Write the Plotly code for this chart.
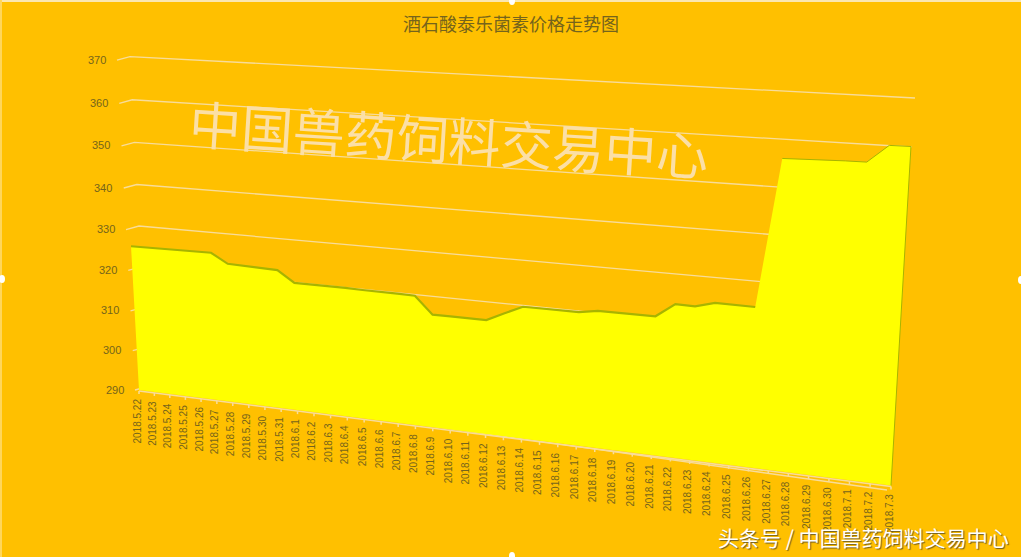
import plotly.graph_objects as go

title = "酒石酸泰乐菌素价格走势图"
watermark = "中国兽药饲料交易中心"
credit = "头条号 / 中国兽药饲料交易中心"

dates = ["2018.5.22","2018.5.23","2018.5.24","2018.5.25","2018.5.26","2018.5.27","2018.5.28","2018.5.29",
         "2018.5.30","2018.5.31","2018.6.1","2018.6.2","2018.6.3","2018.6.4","2018.6.5","2018.6.6","2018.6.7",
         "2018.6.8","2018.6.9","2018.6.10","2018.6.11","2018.6.12","2018.6.13","2018.6.14","2018.6.15",
         "2018.6.16","2018.6.17","2018.6.18","2018.6.19","2018.6.20","2018.6.21","2018.6.22","2018.6.23",
         "2018.6.24","2018.6.25","2018.6.26","2018.6.27","2018.6.28","2018.6.29","2018.6.30","2018.7.1",
         "2018.7.2","2018.7.3"]
prices = [325.5,325.4,325.3,325.2,325.0,324.9,322.5,322.2,322.0,321.7,319.0,318.9,318.7,318.6,318.4,318.3,318.1,
          317.9,314.1,314.0,313.9,313.8,315.5,317.1,317.0,316.9,316.8,317.3,317.2,317.1,317.0,319.6,319.4,
          320.3,320.1,320.0,347.8,347.7,347.5,347.4,347.2,350.2,350.0]
y_ticks = [290,300,310,320,330,340,350,360,370]

BG = "#FFC000"
GRID = "#F8DC9A"
TEXT = "#75641C"
AREA = "#FFFF00"
EDGE = "#A8B400"
N = len(dates) - 1
V0 = 290


def depth(i):
    """Perspective position of category i along the floor (0..1)."""
    u = i / N
    return u / (1.17 - 0.17 * u)


def front(i, v):
    """Screen position of (category, value) on the plane of the area."""
    s = depth(i)
    d = v - V0
    return (139 + 752 * s + d * (-0.225 + 0.558 * s),
            390 + 95.5 * s - d * (4.05 + 1.6 * s))


def wall_left(v):
    d = v - V0
    return 148 - 0.225 * d, 386.5 - 3.9 * d - 0.0028 * d * d


def wall_right(v):
    return 915 - (370 - v) * 0.35, 98 + 4.9 * (370 - v)


fig = go.Figure()

# gridlines: short side-wall stub, then along the back wall
gx, gy = [], []
for v in y_ticks:
    xl, yl = wall_left(v)
    xr, yr = wall_right(v)
    gx += [xl - 13, xl, xr, None]
    gy += [yl + 3.5, yl, yr, None]
fig.add_trace(go.Scatter(x=gx, y=gy, mode="lines", line=dict(color=GRID, width=1.3), hoverinfo="skip"))

# area
tops = [front(i, v) for i, v in enumerate(prices)]
b0 = front(0, V0)
b1 = front(N, V0)
fig.add_trace(go.Scatter(
    x=[b0[0]] + [p[0] for p in tops] + [b1[0]],
    y=[b0[1]] + [p[1] for p in tops] + [b1[1]],
    mode="lines", fill="toself", fillcolor=AREA, line=dict(width=0), hoverinfo="skip",
    customdata=prices,
))

# top bevel of the area
fig.add_trace(go.Scatter(x=[p[0] for p in tops[:36]], y=[p[1] for p in tops[:36]], mode="lines",
                         line=dict(color=EDGE, width=2.2), hoverinfo="skip"))
fig.add_trace(go.Scatter(x=[p[0] for p in tops[36:]] + [b1[0]], y=[p[1] for p in tops[36:]] + [b1[1]], mode="lines",
                         line=dict(color=EDGE, width=1), hoverinfo="skip"))

# floor axis + ticks
ax, ay = [b0[0], b1[0], None], [b0[1] + 1, b1[1] + 1, None]
for i in range(N + 1):
    x, y = front(i, V0)
    ax += [x, x, None]
    ay += [y + 1, y + 4, None]
fig.add_trace(go.Scatter(x=ax, y=ay, mode="lines", line=dict(color=GRID, width=1.5), hoverinfo="skip"))

ann = []
ann.append(dict(x=511, y=23, text=title, showarrow=False, xanchor="center", yanchor="middle",
                font=dict(family="Noto Sans CJK SC", size=18, color=TEXT)))
for v in y_ticks:
    xl, yl = wall_left(v)
    ann.append(dict(x=xl - 33.5, y=yl + 3, text=str(v), showarrow=False, xanchor="center", yanchor="middle",
                    font=dict(family="Liberation Sans", size=11, color=TEXT)))
for i, label in enumerate(dates):
    x, y = front(i, V0)
    ann.append(dict(x=x - 2, y=y + 7, text=label, showarrow=False, textangle=-90, xanchor="center", yanchor="top",
                    font=dict(family="Liberation Sans", size=10, color=TEXT)))
ann.append(dict(x=449, y=137, text=watermark, showarrow=False, textangle=3.6, xanchor="center", yanchor="middle",
                font=dict(family="Noto Sans CJK SC", size=52, color="#FBDFA6")))
ann.append(dict(x=863, y=537, text=credit, showarrow=False, xanchor="center", yanchor="middle",
                font=dict(family="Noto Sans CJK SC", size=21, color="#FFFFFF", shadow="1px 1px 1px #6b5a20")))

# chart-frame edge and the small selection handles visible in the screenshot
handles = [(512, 1), (2, 279), (1021, 280), (512, 556)]
shapes = [dict(type="line", xref="x", yref="y", x0=0, x1=1024, y0=1, y1=1, line=dict(color="#FBE7B0", width=2)),
          dict(type="line", xref="x", yref="y", x0=1, x1=1, y0=0, y1=557, line=dict(color="#FFD65A", width=2)),
          dict(type="line", xref="x", yref="y", x0=1022.5, x1=1022.5, y0=0, y1=557, line=dict(color="#FFFFFF", width=3))]
for hx, hy in handles:
    shapes.append(dict(type="circle", xref="x", yref="y", x0=hx - 3, x1=hx + 3, y0=hy - 4, y1=hy + 4,
                       fillcolor="#FFFFFF", line=dict(width=0)))

fig.update_layout(
    width=1024, height=557, margin=dict(l=0, r=0, t=0, b=0),
    paper_bgcolor=BG, plot_bgcolor=BG, showlegend=False,
    xaxis=dict(range=[0, 1024], visible=False, fixedrange=True),
    yaxis=dict(range=[557, 0], visible=False, fixedrange=True),
    annotations=ann,
    shapes=shapes,
)
fig.write_html("out.html", config=dict(displayModeBar=False),
               post_script="document.body.style.margin='0';")
